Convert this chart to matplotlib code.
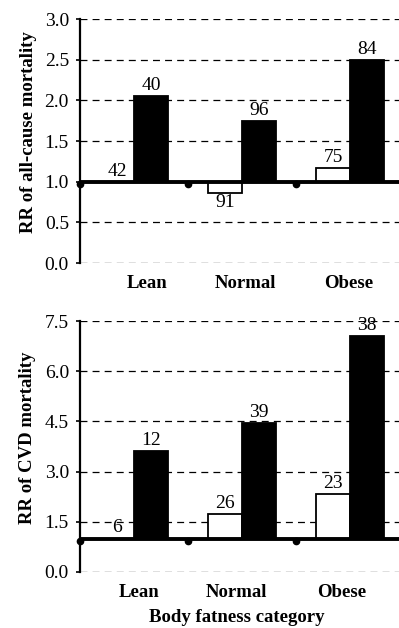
import matplotlib
matplotlib.use('Agg')
import matplotlib.pyplot as plt
import matplotlib.transforms as mtrans

plt.rcParams['font.family'] = ['Liberation Serif', 'DejaVu Serif']
plt.rcParams['lines.scale_dashes'] = False

categories = ['Lean', 'Normal', 'Obese']

# 上图：全因死亡 RR，白柱/黑柱，柱上数字为例数
allcause_white = [1.0, 0.86, 1.17]
allcause_black = [2.05, 1.75, 2.50]
allcause_n_white = [42, 91, 75]
allcause_n_black = [40, 96, 84]
allcause_ticks = [0.0, 0.5, 1.0, 1.5, 2.0, 2.5, 3.0]

# 下图：CVD 死亡 RR
cvd_white = [1.0, 1.72, 2.32]
cvd_black = [3.62, 4.44, 7.04]
cvd_n_white = [6, 26, 23]
cvd_n_black = [12, 39, 38]
cvd_ticks = [0.0, 1.5, 3.0, 4.5, 6.0, 7.5]

W, H = 399, 628
fig = plt.figure(figsize=(W / 100, H / 100), dpi=100)


def panel(ax, white, black, n_white, n_black, ticks, label_x):
    xs = range(len(categories))
    bw = 0.315
    for i in xs:
        ax.bar(i + 0.5 - bw / 2, white[i] - 1.0, bw, bottom=1.0,
               color='white', edgecolor='black', linewidth=1.3, zorder=3)
        ax.bar(i + 0.5 + bw / 2, black[i] - 1.0, bw, bottom=1.0,
               color='black', edgecolor='black', linewidth=1.3, zorder=3)
        if white[i] >= 1.0:
            ax.annotate(str(n_white[i]), (i + 0.5 - bw / 2, white[i]),
                        xytext=(0, 1.5), textcoords='offset points',
                        ha='center', va='bottom', fontsize=14)
        else:
            ax.annotate(str(n_white[i]), (i + 0.5 - bw / 2, white[i]),
                        xytext=(0, -0.5), textcoords='offset points',
                        ha='center', va='top', fontsize=14)
        ax.annotate(str(n_black[i]), (i + 0.5 + bw / 2, black[i]),
                    xytext=(0, 1.5), textcoords='offset points',
                    ha='center', va='bottom', fontsize=14)

    ax.set_xlim(0, (W - 80) / 108)
    ax.set_ylim(ticks[0], ticks[-1])
    ax.set_yticks(ticks, [f'{t:.1f}' for t in ticks])
    ax.tick_params(axis='y', length=3, width=1.2, pad=5, labelsize=14)
    ax.set_xticks([])
    for t in ticks:
        ax.axhline(t, color='black', lw=0.9, dashes=(5, 3.7), zorder=1)
    # 粗基线 RR=1
    ax.axhline(1.0, color='black', lw=2.8, zorder=4)
    off = mtrans.ScaledTranslation(0, -2.5 / 100, fig.dpi_scale_trans)
    ax.plot([0, 1, 2], [1, 1, 1], 'o', color='black', ms=4.5,
            transform=ax.transData + off, clip_on=False, zorder=5)
    for s in ['top', 'right', 'bottom']:
        ax.spines[s].set_visible(False)
    ax.spines['left'].set_linewidth(1.6)
    for x, c in zip(label_x, categories):
        ax.annotate(c, (x, 0), xycoords=('data', 'axes fraction'),
                    xytext=(0, -14.5), textcoords='offset points',
                    ha='center', va='center', fontsize=13.5, fontweight='bold')


ax1 = fig.add_axes([80 / W, (H - 263) / H, 1 - 80 / W, 244 / H])
panel(ax1, allcause_white, allcause_black, allcause_n_white, allcause_n_black,
      allcause_ticks, [0.62, 1.53, 2.49])
fig.text(29 / W, 1 - 132.5 / H, 'RR of all-cause mortality', rotation=90,
         ha='center', va='center', fontsize=13.5, fontweight='bold')

ax2 = fig.add_axes([80 / W, (H - 572) / H, 1 - 80 / W, 251 / H])
panel(ax2, cvd_white, cvd_black, cvd_n_white, cvd_n_black,
      cvd_ticks, [0.55, 1.45, 2.42])
fig.text(28 / W, 1 - 438 / H, 'RR of CVD mortality', rotation=90,
         ha='center', va='center', fontsize=13.5, fontweight='bold')

fig.text(237 / W, 1 - 617 / H, 'Body fatness category',
         ha='center', va='center', fontsize=13.5, fontweight='bold')

fig.savefig('out.png', dpi=100)
